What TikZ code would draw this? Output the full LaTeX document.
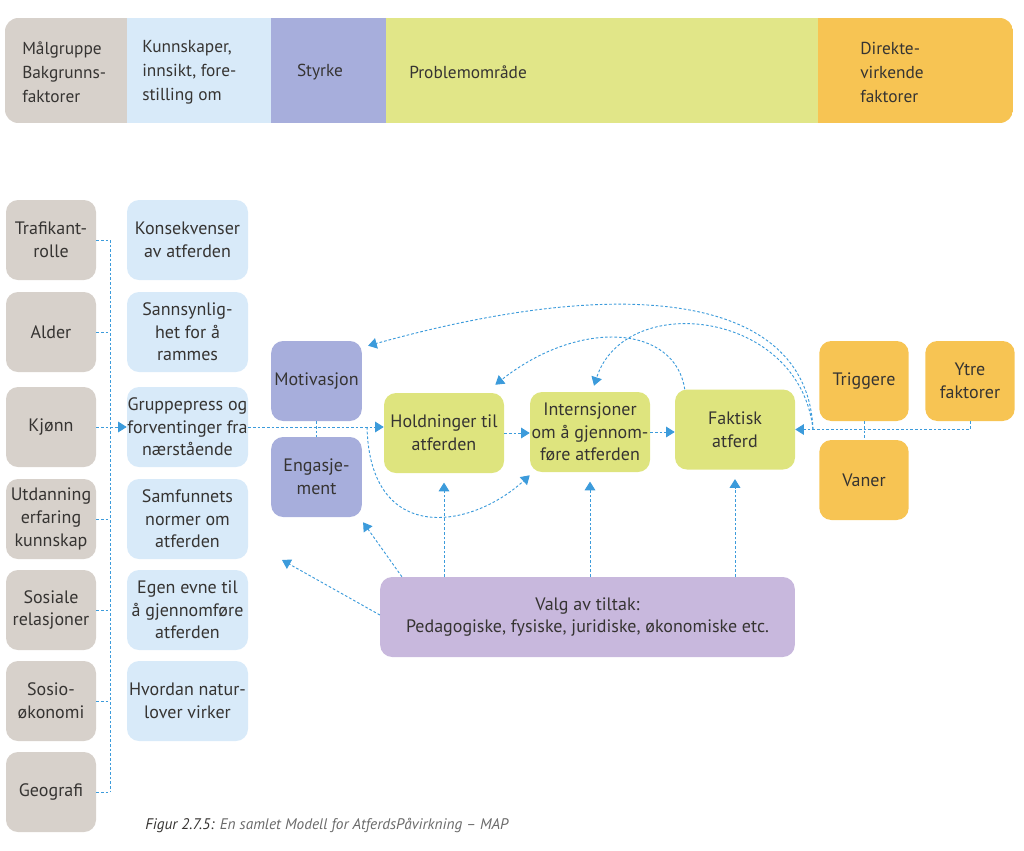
\documentclass[tikz,border=0pt]{standalone}
\usepackage{fontspec}
\setmainfont{PT Sans}
\usetikzlibrary{arrows.meta,calc}

\definecolor{grabg}{HTML}{D7D1CB}
\definecolor{blabg}{HTML}{D8EAF9}
\definecolor{lilla}{HTML}{A7AEDC}
\definecolor{gulgr}{HTML}{DEE47E}
\definecolor{oransj}{HTML}{F7C453}
\definecolor{valgbg}{HTML}{C8B8DD}
\definecolor{pilblaa}{HTML}{3C9BDB}
\definecolor{tekst}{HTML}{363432}
\definecolor{lystekst}{HTML}{6A6A6A}

\begin{document}
\begin{tikzpicture}[x=0.75pt,y=-0.75pt] % 1 enhet = 1 piksel, y nedover
\tikzstyle{boks} = [rounded corners=9pt, align=center, text=tekst, inner xsep=0pt, inner ysep=2pt, minimum height=60pt, font=\fontsize{13.5}{17}\selectfont] % felles boks
\tikzstyle{gra} = [boks, fill=grabg, minimum width=67.5pt] % bakgrunnsfaktorer
\tikzstyle{bla} = [boks, fill=blabg, minimum width=90.75pt] % kunnskaper
\tikzstyle{lil} = [boks, fill=lilla, minimum width=68pt]
\tikzstyle{gul} = [boks, fill=gulgr, minimum width=90pt]
\tikzstyle{ora} = [boks, fill=oransj, minimum width=67pt]
\tikzstyle{lenke} = [pilblaa, line width=0.7pt, dash pattern=on 2pt off 1.5pt] % stiplet linje
\tikzstyle{pilen} = [lenke, -{Triangle[length=6.5pt,width=8pt]}] % stiplet pil
\tikzstyle{topptekst} = [text=tekst, align=left, anchor=west, inner sep=0pt, font=\fontsize{13}{18}\selectfont]

\useasboundingbox (0,0) rectangle (1024,850);

% toppstripe
\begin{scope}
\clip[rounded corners=10pt] (5,18) rectangle (1013,123);
\fill[grabg] (5,18) rectangle (127,123);
\fill[blabg] (127,18) rectangle (271,123);
\fill[lilla] (271,18) rectangle (386,123);
\fill[gulgr!92!white] (386,18) rectangle (818,123);
\fill[oransj] (818,18) rectangle (1013,123);
\end{scope}
\node[topptekst] (tmal) at (22,72) {Målgruppe\\Bakgrunns-\\faktorer};
\node[topptekst] (tkunn) at (142,72) {Kunnskaper,\\innsikt, fore-\\stilling om};
\node[topptekst, anchor=center] (tstyrke) at (320,72) {Styrke};
\node[topptekst] (tproblem) at (409,72) {Problemområde};
\node[topptekst] (tdirekte) at (860,72) {Direkte-\\virkende\\faktorer};

% venstre kolonne
\node[gra] (trafikant) at (51,240) {Trafikant-\\rolle};
\node[gra] (alder) at (51,332) {Alder};
\node[gra] (kjonn) at (51,427) {Kjønn};
\node[gra] (utdanning) at (51,519) {Utdanning\\erfaring\\kunnskap};
\node[gra] (sosiale) at (51,610) {Sosiale\\relasjoner};
\node[gra] (sosio) at (51,701) {Sosio-\\økonomi};
\node[gra] (geografi) at (51,792) {Geografi};

% kunnskapskolonne
\node[bla] (konsekv) at (187.5,240) {Konsekvenser\\av atferden};
\node[bla] (sannsyn) at (187.5,332) {Sannsynlig-\\het for å\\rammes};
\node[bla] (gruppe) at (187.5,427) {Gruppepress og\\forventinger fra\\nærstående};
\node[bla] (samfunn) at (187.5,519) {Samfunnets\\normer om\\atferden};
\node[bla] (evne) at (187.5,610) {Egen evne til\\å gjennomføre\\atferden};
\node[bla] (natur) at (187.5,701) {Hvordan natur-\\lover virker};

% midten
\node[lil] (motiv) at (316.5,381) {Motivasjon};
\node[lil] (engasj) at (316.5,477) {Engasje-\\ment};
\node[gul] (hold) at (444,433) {Holdninger til\\atferden};
\node[gul] (intern) at (590,432) {Internsjoner\\om å gjennom-\\føre atferden};
\node[gul] (faktisk) at (735,429.5) {Faktisk\\atferd};
\node[ora] (trigg) at (864,381) {Triggere};
\node[ora] (ytre) at (970,381) {Ytre\\faktorer};
\node[ora] (vaner) at (864,480) {Vaner};
\node[boks, fill=valgbg, minimum width=311pt] (valg) at (587.5,617) {Valg av tiltak:\\Pedagogiske, fysiske, juridiske, økonomiske etc.};

\coordinate (buss) at (110,427); % samleskinne
\coordinate (split) at (367,427);
\coordinate (knute) at (813,429.5);
\coordinate (friende) at (282,560);

% samleskinne fra bakgrunnsfaktorer
\draw[lenke] (trafikant.east -| buss) -- (geografi.east -| buss);
\foreach \g in {trafikant,alder,utdanning,sosiale,sosio,geografi}
  \draw[lenke] (\g.east) -- (\g.east -| buss);
\draw[pilen] (kjonn.east) -- (gruppe.west);
\draw[pilen] (gruppe.east) -- (gruppe.east -| hold.west);
\draw[lenke] (motiv.south) -- (engasj.north);
\draw[pilen] (hold.east) -- (hold.east -| intern.west);
\draw[pilen] (intern.east) -- (intern.east -| faktisk.west);
\draw[lenke] (trigg.south) -- (vaner.north);
\draw[pilen] (ytre.south) |- (faktisk.east);

% buer
\draw[pilen] (knute) .. controls (808,300) and (640,270) .. ($(motiv.north east)+(6,5)$);
\draw[pilen] (knute) .. controls (800,310) and (625,290) .. ($(intern.north)+(4,-6)$);
\draw[pilen] ($(faktisk.north west)+(10,0)$) .. controls (675,325) and (580,318) .. ($(hold.north east)+(-9,-8)$);
\draw[pilen] (split) .. controls (370,545) and (470,530) .. ($(intern.south west)+(0,3)$);

% tiltak
\draw[pilen, shorten >=7pt] (valg.north -| hold.south) -- (hold.south);
\draw[pilen, shorten >=7pt] (valg.north -| intern.south) -- (intern.south);
\draw[pilen, shorten >=7pt] (valg.north -| faktisk.south) -- (faktisk.south);
\draw[pilen] ($(valg.north west)+(22,0)$) -- ($(engasj.south east)+(1,5)$);
\draw[pilen] ($(valg.west)+(0,-2)$) -- (friende);

\node[anchor=west, inner sep=0pt, font=\itshape\fontsize{11.5}{14}\selectfont] (figtekst) at (145,825) {\textcolor{tekst}{Figur 2.7.5:} \textcolor{lystekst}{En samlet Modell for AtferdsPåvirkning – MAP}};
\end{tikzpicture}
\end{document}
